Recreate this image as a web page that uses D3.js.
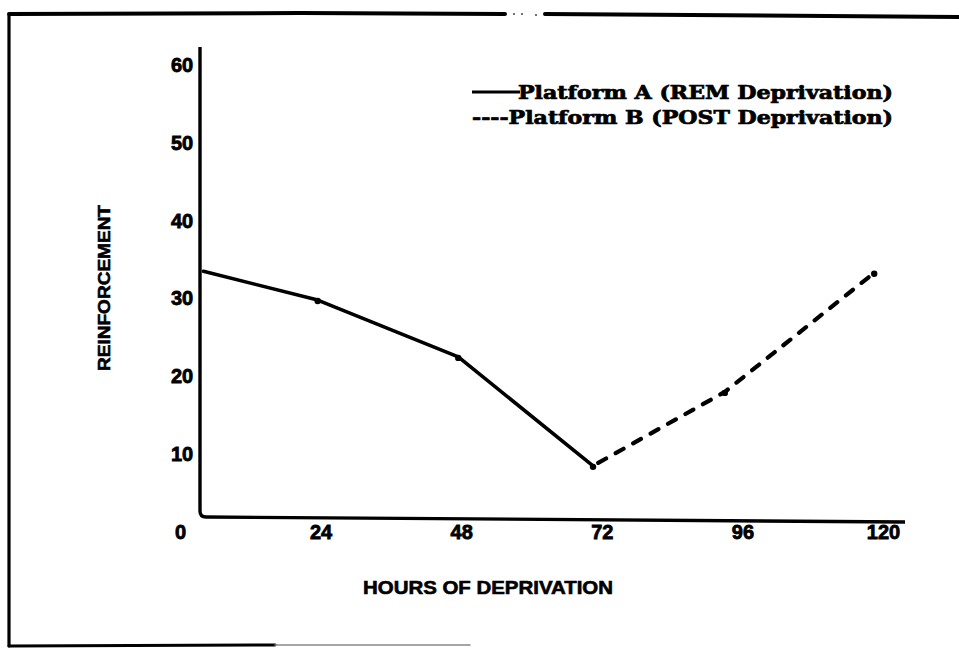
<!DOCTYPE html>
<html>
<head>
<meta charset="utf-8">
<script src="https://cdn.jsdelivr.net/npm/d3@7"></script>
<style>
  html, body { margin: 0; padding: 0; background: #fff; }
  svg { display: block; }
  .tick text { font-family: "Liberation Sans", Arial, sans-serif; font-weight: bold; }
</style>
</head>
<body>
<svg width="959" height="649"></svg>
<script>
// data
var xTicks = [0, 24, 48, 72, 96, 120];
var yTicks = [0, 10, 20, 30, 40, 50, 60];

// Platform A (solid)
var hoursA = [4, 23.5, 47.5, 70.5];
var reinfA = [33.5, 29.8, 22.5, 8.5];

// Platform B (dashed)
var hoursB = [70.5, 93, 118.5];
var reinfB = [8.5, 18, 33.3];

var legendLabels = ["Platform A (REM Deprivation)", "----Platform B (POST Deprivation)"];

var svg = d3.select("svg");

var x = d3.scaleLinear().domain([0, 120]).range([180, 883]);
var y = d3.scaleLinear().domain([0, 60]).range([532, 65]);

// frame (scanned page border)
var frame = svg.append("g").attr("fill", "none").attr("stroke", "#000").attr("stroke-linecap", "round");
frame.append("path").attr("d", "M9,15 L9,646").attr("stroke-width", 3.2);
frame.append("path").attr("d", "M9,14 L300,13 L505,14").attr("stroke-width", 4);
frame.append("path").attr("d", "M545,14 L959,17").attr("stroke-width", 4);
frame.append("path").attr("d", "M9,646 L275,645").attr("stroke-width", 3);
frame.append("path").attr("d", "M275,645 L470,645").attr("stroke-width", 1.5).attr("stroke", "#888");
[[514, 14], [522, 14], [536, 15]].forEach(function(p) {
  svg.append("circle").attr("cx", p[0]).attr("cy", p[1]).attr("r", 1).attr("fill", "#444");
});

// axis lines (hand drawn, slightly off the label grid)
svg.append("path")
    .attr("d", "M200,47 L200,511 Q200,517 206,517 L905,522")
    .attr("fill", "none")
    .attr("stroke", "#000")
    .attr("stroke-width", 3.4);

// tick labels
var xAxis = svg.append("g")
    .attr("transform", "translate(0,532)")
    .call(d3.axisBottom(x).tickValues(xTicks).tickSize(0).tickPadding(0));
xAxis.select(".domain").remove();
xAxis.selectAll("text").attr("font-size", 20).attr("dy", "0.36em")
    .attr("fill", "#000").attr("stroke", "#000").attr("stroke-width", 0.8);

var yAxis = svg.append("g")
    .attr("transform", "translate(182,0)")
    .call(d3.axisLeft(y).tickValues(yTicks).tickSize(0).tickPadding(0));
yAxis.select(".domain").remove();
yAxis.selectAll("text").attr("font-size", 20).attr("text-anchor", "middle")
    .attr("fill", "#000").attr("stroke", "#000").attr("stroke-width", 0.8);
yAxis.selectAll(".tick").filter(function(d) { return d === 0; }).remove();

// lines
var line = d3.line()
    .x(function(d) { return x(d[0]); })
    .y(function(d) { return y(d[1]); });

svg.append("path")
    .datum(d3.zip(hoursA, reinfA))
    .attr("d", line)
    .attr("fill", "none")
    .attr("stroke", "#000")
    .attr("stroke-width", 3.6)
    .attr("stroke-linejoin", "round")
    .attr("stroke-linecap", "round");

svg.append("path")
    .datum(d3.zip(hoursB, reinfB))
    .attr("d", line)
    .attr("fill", "none")
    .attr("stroke", "#000")
    .attr("stroke-width", 4.2)
    .attr("stroke-dasharray", "9,11")
    .attr("stroke-dashoffset", -6)
    .attr("stroke-linecap", "round");

// point blobs
var pts = d3.zip(hoursA, reinfA).slice(1).concat(d3.zip(hoursB, reinfB).slice(1));
svg.selectAll("circle.pt")
    .data(pts)
    .enter().append("circle")
    .attr("class", "pt")
    .attr("cx", function(d) { return x(d[0]); })
    .attr("cy", function(d) { return y(d[1]) + 1; })
    .attr("r", 3.2)
    .attr("fill", "#000");

// legend
svg.append("line")
    .attr("x1", 472).attr("x2", 520)
    .attr("y1", 92).attr("y2", 92)
    .attr("stroke", "#000").attr("stroke-width", 3);

var legend = svg.append("g")
    .attr("font-family", "'DejaVu Serif', serif")
    .attr("font-weight", "bold")
    .attr("font-size", 18)
    .attr("fill", "#000")
    .attr("stroke", "#000")
    .attr("stroke-width", 0.7);
legend.append("text").attr("x", 518).attr("y", 99)
    .attr("textLength", 375).attr("lengthAdjust", "spacingAndGlyphs")
    .text(legendLabels[0]);
legend.append("text").attr("x", 472).attr("y", 124)
    .attr("textLength", 421).attr("lengthAdjust", "spacingAndGlyphs")
    .text(legendLabels[1]);

// axis titles
svg.append("text")
    .attr("x", 363).attr("y", 594)
    .attr("font-family", "'Liberation Sans', Arial, sans-serif")
    .attr("font-weight", "bold")
    .attr("font-size", 18)
    .attr("stroke", "#000").attr("stroke-width", 0.6)
    .attr("textLength", 250).attr("lengthAdjust", "spacingAndGlyphs")
    .text("HOURS OF DEPRIVATION");

svg.append("text")
    .attr("transform", "translate(110,371) rotate(-90)")
    .attr("font-family", "'Liberation Sans', Arial, sans-serif")
    .attr("font-weight", "bold")
    .attr("font-size", 17)
    .attr("stroke", "#000").attr("stroke-width", 0.6)
    .attr("textLength", 166).attr("lengthAdjust", "spacingAndGlyphs")
    .text("REINFORCEMENT");
</script>
</body>
</html>
